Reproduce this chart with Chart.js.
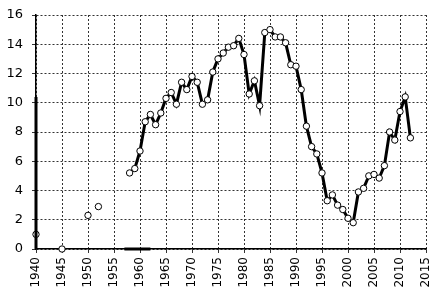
<!DOCTYPE html>
<html>
<head>
<meta charset="utf-8">
<script src="https://cdn.jsdelivr.net/npm/chart.js@4/dist/chart.umd.min.js"></script>
<style>
html, body { margin: 0; padding: 0; background: #fff; }
</style>
</head>
<body>
<canvas id="chart" width="437" height="297"></canvas>
<script>
// main series, 1958-2012
const years = [1958, 1959, 1960, 1961, 1962, 1963, 1964, 1965, 1966, 1967,
    1968, 1969, 1970, 1971, 1972, 1973, 1974, 1975, 1976, 1977,
    1978, 1979, 1980, 1981, 1982, 1983, 1984, 1985, 1986, 1987,
    1988, 1989, 1990, 1991, 1992, 1993, 1994, 1995, 1996, 1997,
    1998, 1999, 2000, 2001, 2002, 2003, 2004, 2005, 2006, 2007,
    2008, 2009, 2010, 2011, 2012];
const values = [5.2, 5.5, 6.7, 8.7, 9.2, 8.5, 9.3, 10.3, 10.7, 9.9,
    11.4, 10.9, 11.8, 11.4, 9.9, 10.2, 12.1, 13.0, 13.4, 13.8,
    13.9, 14.4, 13.3, 10.6, 11.5, 9.8, 14.8, 15.0, 14.5, 14.5,
    14.1, 12.6, 12.5, 10.9, 8.4, 7.0, 6.5, 5.2, 3.3, 3.7,
    3.0, 2.7, 2.1, 1.8, 3.9, 4.15, 5.0, 5.1, 4.85, 5.7,
    8.0, 7.45, 9.4, 10.4, 7.6];

// loose early points
const earlyYears = [1940, 1945, 1950, 1952];
const earlyValues = [1.0, 0.0, 2.3, 2.9];

// stray strokes in the picture
const stubYears = [1940, 1940];
const stubValues = [10.4, 0];
const baseYears = [1957, 1962];
const baseValues = [0, 0];

const xTicks = [1940, 1945, 1950, 1955, 1960, 1965, 1970, 1975, 1980, 1985, 1990, 1995, 2000, 2005, 2010, 2015];
const yTicks = [0, 2, 4, 6, 8, 10, 12, 14, 16];

function pts(xs, ys) {
    return xs.map((x, i) => ({ x: x, y: ys[i] }));
}

Chart.defaults.color = '#000';
Chart.defaults.font.family = 'DejaVu Sans';

// the dotted grid kept going missing; check an empty grid column and redraw it if so
const gridCheck = {
    id: 'gridCheck',
    afterDraw(chart) {
        const c = chart.ctx;
        const gx = Math.round(chart.scales.x.getPixelForValue(1945));
        const px = c.getImageData(gx - 1, Math.round(chart.chartArea.top) + 5, 3, 60).data;
        let dark = false;
        for (let i = 0; i < px.length; i += 4) {
            if (px[i + 3] > 0 && px[i] < 160) { dark = true; break; }
        }
        if (!dark) {
            chart.scales.x.drawGrid(chart.chartArea);
            chart.scales.y.drawGrid(chart.chartArea);
        }
    }
};

const ctx = document.getElementById('chart').getContext('2d');
new Chart(ctx, {
    type: 'line',
    data: {
        datasets: [{
            data: pts(stubYears, stubValues),
            borderColor: '#000', borderWidth: 3, pointRadius: 0, clip: false
        }, {
            data: pts(baseYears, baseValues),
            borderColor: '#000', borderWidth: 3, pointRadius: 0, clip: false
        }, {
            data: pts(years, values),
            borderColor: '#000', borderWidth: 3, pointRadius: 3.2,
            pointBackgroundColor: '#fff', pointBorderColor: '#000', pointBorderWidth: 1, clip: false
        }, {
            data: pts(earlyYears, earlyValues),
            borderColor: 'rgba(0,0,0,0)', pointRadius: 3.2,
            pointBackgroundColor: '#fff', pointBorderColor: '#000', pointBorderWidth: 1, clip: false
        }]
    },
    plugins: [gridCheck],
    options: {
        responsive: false,
        animation: false,
        devicePixelRatio: 1,
        layout: { padding: { top: 15, right: 11, left: 0, bottom: 0 } },
        plugins: { legend: { display: false } },
        scales: {
            x: {
                type: 'linear', min: 1940, max: 2015,
                afterBuildTicks: axis => { axis.ticks = xTicks.map(v => ({ value: v })); },
                afterFit: s => { s.height = 48; s.paddingLeft = 0; s.paddingRight = 0; },
                grid: { color: '#333', lineWidth: 1, tickLength: 4 },
                border: { color: '#000', width: 1.5, dash: [2, 2] },
                ticks: {
                    minRotation: 90, maxRotation: 90, padding: 4,
                    font: { size: 12 },
                    callback: v => String(v)
                }
            },
            y: {
                min: 0, max: 16,
                afterBuildTicks: axis => { axis.ticks = yTicks.map(v => ({ value: v })); },
                afterFit: s => { s.width = 36; s.paddingTop = 0; s.paddingBottom = 0; },
                grid: { color: '#333', lineWidth: 1, tickLength: 4 },
                border: { color: '#000', width: 1.5, dash: [2, 2] },
                ticks: {
                    padding: 9,
                    font: { size: 13 },
                    callback: v => String(v)
                }
            }
        }
    }
});
</script>
</body>
</html>
